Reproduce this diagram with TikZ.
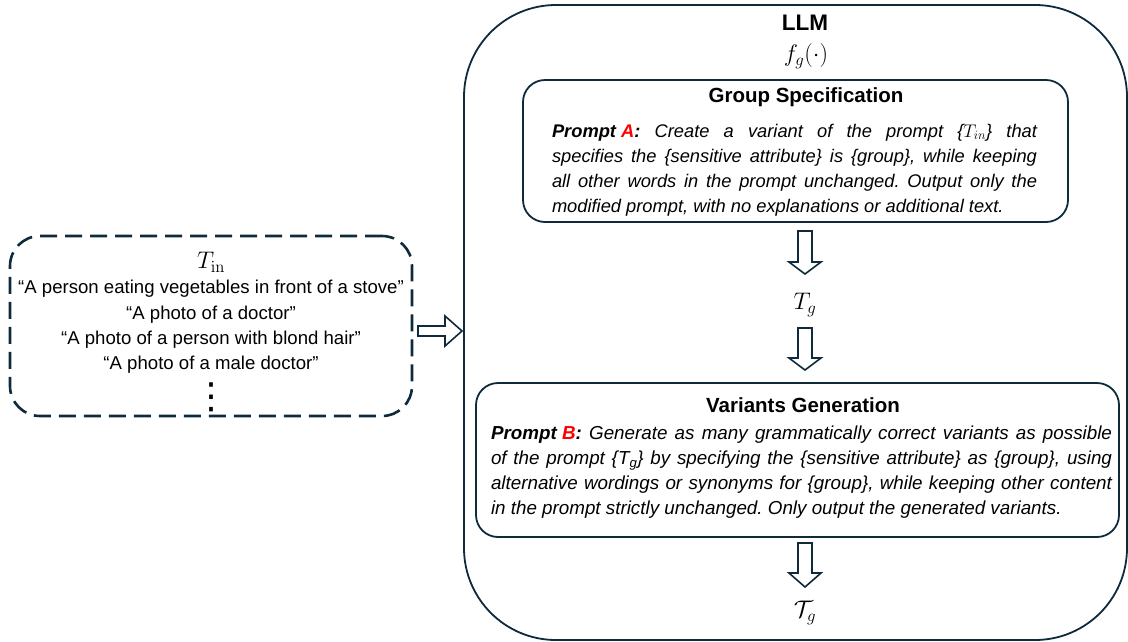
\documentclass[tikz,border=0pt]{standalone}
\usepackage{fix-cm}
\usepackage[no-math]{fontspec}
\setmainfont{Liberation Sans}
\newfontfamily\dejavu{DejaVu Sans}
\usepackage{xcolor}
\definecolor{navy}{HTML}{0E2A3B}
\definecolor{promptred}{HTML}{FF0000}
\newcommand\blockdown[4]{%
  \draw[hollow] (#1-7,#2) -- (#1+7,#2) -- (#1+7,#3) -- (#1+16,#3) -- (#1,#4) -- (#1-16,#3) -- (#1-7,#3) -- cycle;}
\frenchspacing
\begin{document}
\begin{tikzpicture}[x=1pt,y=-1pt,
  frame/.style={draw=navy, line width=1.8pt, inner sep=0pt},
  hollow/.style={draw=navy, line width=1.6pt, fill=white, line join=miter},
  bodytext/.style={font=\fontsize{18.6}{25.3}\selectfont, align=center, inner sep=0pt},
  prompttext/.style={font=\fontsize{18.3}{25}\selectfont\itshape, align=justify, inner sep=0pt},
  titletext/.style={font=\fontsize{20.5}{24}\selectfont\bfseries, inner sep=0pt},
  mathtext/.style={font=\fontsize{24}{28}\selectfont, inner sep=0pt}]
\useasboundingbox (0,0) rectangle (1128,641);

% input box
\node[frame, line width=2.6pt, dash pattern=on 17pt off 8pt, rounded corners=30pt,
      minimum width=402pt, minimum height=180pt] (inbox) at (211,326) {};
\node[mathtext] (tin) at (211,262) {$T_{\mathrm{in}}$};
\node[bodytext] (inlist) at (211,327) {“A person eating vegetables in front of a stove”\\
“A photo of a doctor”\\
“A photo of a person with blond hair”\\
“A photo of a male doctor”};
\node[inner sep=0pt, font=\dejavu\fontsize{36}{36}\selectfont] (dots) at (211,397) {⋮};

% LLM frame
\node[frame, rounded corners=92pt, minimum width=663pt, minimum height=635pt] (llm) at (795.5,322.5) {};
\node[titletext, font=\fontsize{22.5}{26}\selectfont\bfseries] (llmtitle) at (805,23) {LLM};
\node[mathtext] (fg) at (806,56) {$f_g(\cdot)$};

% group specification
\node[frame, rounded corners=22pt, minimum width=545pt, minimum height=142pt] (gsbox) at (795.5,151) {};
\node[titletext] (gstitle) at (806,97) {Group Specification};
\node[prompttext, text width=485pt] (prompta) at (794.5,170) {\hyphenpenalty=10000
\textbf{Prompt\hspace{0.28em}\textcolor{promptred}{A}:} Create a variant of the prompt \{$T_{in}$\} that\linebreak
specifies the \{sensitive attribute\} is \{group\}, while keeping\linebreak
all other words in the prompt unchanged. Output only the\linebreak
modified prompt, with no explanations or additional text.};

% T_g
\node[mathtext] (tg) at (805,305) {$T_g$};

% variants generation
\node[frame, rounded corners=22pt, minimum width=643pt, minimum height=154pt] (vgbox) at (797.5,460) {};
\node[titletext] (vgtitle) at (803,405) {Variants Generation};
\node[prompttext, font=\fontsize{18.8}{25}\selectfont\itshape, text width=621pt] (promptb) at (801.5,472) {\hyphenpenalty=10000
\textbf{Prompt\hspace{0.28em}\textcolor{promptred}{B}:} Generate as many grammatically correct variants as possible\linebreak
of the prompt \{T\textsubscript{g}\} by specifying the \{sensitive attribute\} as \{group\}, using\linebreak
alternative wordings or synonyms for \{group\}, while keeping other content\linebreak
in the prompt strictly unchanged. Only output the generated variants.};

% output
\node[mathtext] (calT) at (805,613) {$\mathcal{T}_g$};

% hollow arrows
\draw[hollow] (418,326) -- (445,326) -- (445,316) -- (462,331) -- (445,346) -- (445,336) -- (418,336) -- cycle;
\blockdown{805}{231}{262}{274}
\blockdown{805}{328}{358}{370}
\blockdown{805}{543}{573}{587}
\end{tikzpicture}
\end{document}
